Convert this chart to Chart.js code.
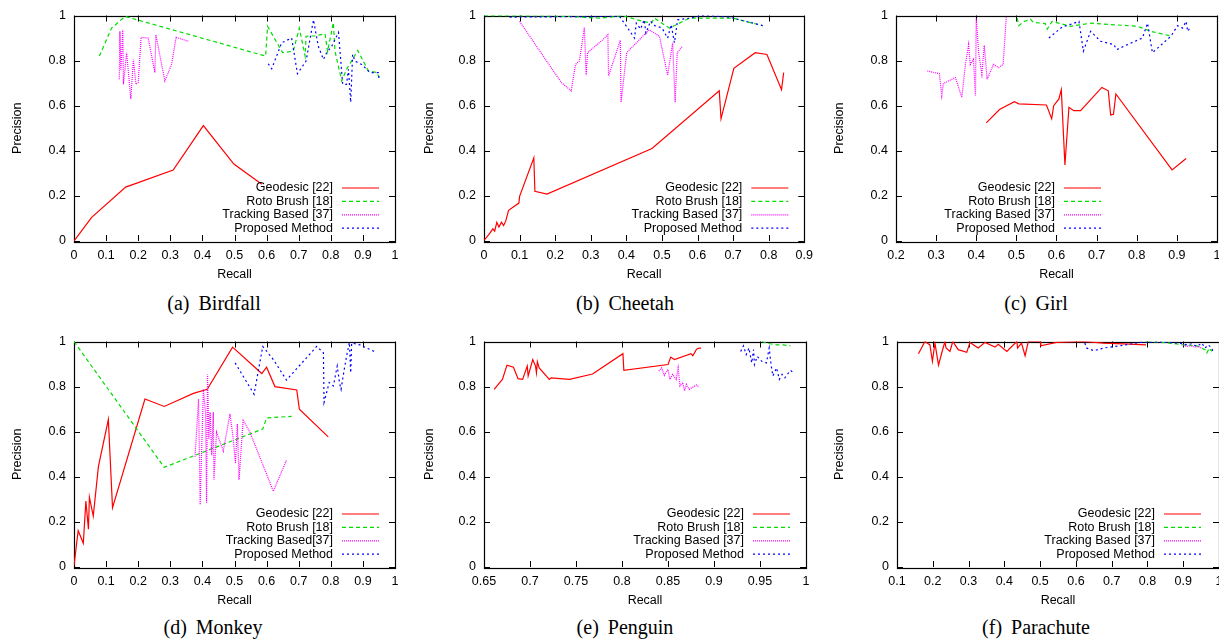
<!DOCTYPE html>
<html lang="en">
<head>
<meta charset="UTF-8">
<title>Precision-Recall curves</title>
<script src="https://cdn.jsdelivr.net/npm/chart.js"></script>
<style>
  html, body { margin: 0; padding: 0; background: #fff; overflow: hidden; }
  body { width: 1219px; height: 643px; position: relative; }
  canvas { position: absolute; }
  .caption {
    position: absolute; transform: translateX(-50%); white-space: nowrap;
    font-family: "Liberation Serif", "Times New Roman", serif; font-size: 20px;
    line-height: 23px; word-spacing: 4px; color: #000;
  }
</style>
</head>
<body>
<canvas id="birdfallCanvas" width="410" height="290" style="left:0;top:0"></canvas>
<canvas id="cheetahCanvas" width="410" height="290" style="left:410px;top:0"></canvas>
<canvas id="girlCanvas" width="410" height="290" style="left:820px;top:0"></canvas>
<canvas id="monkeyCanvas" width="410" height="290" style="left:0;top:326px"></canvas>
<canvas id="penguinCanvas" width="410" height="290" style="left:410px;top:326px"></canvas>
<canvas id="parachuteCanvas" width="410" height="290" style="left:820px;top:326px"></canvas>

<div class="caption" style="left:214px;top:292px">(a) Birdfall</div>
<div class="caption" style="left:625px;top:292px">(b) Cheetah</div>
<div class="caption" style="left:1036px;top:292px">(c) Girl</div>
<div class="caption" style="left:213px;top:616px">(d) Monkey</div>
<div class="caption" style="left:625px;top:616px">(e) Penguin</div>
<div class="caption" style="left:1036px;top:616px">(f) Parachute</div>

<script>
// ---- data (recall, precision) ----
const seriesLabels = ['Geodesic [22]', 'Roto Brush [18]', 'Tracking Based [37]', 'Proposed Method'];
const monkeyLabels = ['Geodesic [22]', 'Roto Brush [18]', 'Tracking Based[37]', 'Proposed Method'];

const precisionTicks = [0, 0.2, 0.4, 0.6, 0.8, 1];
const recallTicksFull = [0, 0.1, 0.2, 0.3, 0.4, 0.5, 0.6, 0.7, 0.8, 0.9, 1];
const recallTicksCheetah = [0, 0.1, 0.2, 0.3, 0.4, 0.5, 0.6, 0.7, 0.8, 0.9];
const recallTicksGirl = [0.2, 0.3, 0.4, 0.5, 0.6, 0.7, 0.8, 0.9, 1];
const recallTicksPenguin = [0.65, 0.7, 0.75, 0.8, 0.85, 0.9, 0.95, 1];
const recallTicksParachute = [0.1, 0.2, 0.3, 0.4, 0.5, 0.6, 0.7, 0.8, 0.9, 1];

const birdfallGeodesic = [[0,0],[0.055,0.105],[0.161,0.239],[0.309,0.315],[0.403,0.512],[0.498,0.341],[0.585,0.252]];
const birdfallRoto = [[0.079,0.82],[0.117,0.944],[0.159,0.996],[0.597,0.82],[0.603,0.952],[0.65,0.835],[0.683,0.842],[0.702,0.944],[0.72,0.82],[0.723,0.908],[0.751,0.91],[0.782,0.919],[0.79,0.84],[0.808,0.969],[0.813,0.842],[0.834,0.71],[0.849,0.761],[0.884,0.845],[0.917,0.754],[0.943,0.747],[0.951,0.725]];
const birdfallTracking = [[0.141,0.717],[0.143,0.93],[0.146,0.76],[0.152,0.937],[0.154,0.695],[0.164,0.835],[0.177,0.63],[0.185,0.805],[0.193,0.695],[0.2,0.703],[0.209,0.903],[0.231,0.9],[0.252,0.747],[0.255,0.915],[0.283,0.71],[0.304,0.783],[0.318,0.903],[0.356,0.886]];
const birdfallProposed = [[0.605,0.786],[0.616,0.764],[0.647,0.879],[0.678,0.9],[0.696,0.742],[0.723,0.798],[0.746,0.981],[0.761,0.864],[0.777,0.805],[0.787,0.835],[0.803,0.864],[0.824,0.925],[0.837,0.695],[0.849,0.695],[0.855,0.761],[0.862,0.615],[0.868,0.827],[0.875,0.798],[0.896,0.783],[0.922,0.747],[0.948,0.747],[0.951,0.71]];

const cheetahGeodesic = [[0,0.003],[0.014,0.029],[0.025,0.054],[0.03,0.044],[0.036,0.083],[0.042,0.062],[0.049,0.083],[0.055,0.069],[0.061,0.088],[0.069,0.136],[0.098,0.168],[0.1,0.198],[0.14,0.369],[0.143,0.22],[0.177,0.208],[0.472,0.41],[0.661,0.666],[0.666,0.542],[0.702,0.766],[0.762,0.835],[0.795,0.827],[0.836,0.671],[0.842,0.747]];
const cheetahRoto = [[0,1],[0.24,0.996],[0.325,0.988],[0.39,0.999],[0.446,0.974],[0.47,0.966],[0.479,0.988],[0.521,0.944],[0.577,0.988],[0.699,0.988],[0.783,0.955]];
const cheetahTracking = [[0.1,0.974],[0.217,0.703],[0.245,0.666],[0.257,0.783],[0.268,0.798],[0.282,0.947],[0.287,0.735],[0.291,0.835],[0.334,0.893],[0.348,0.915],[0.35,0.732],[0.383,0.89],[0.385,0.615],[0.401,0.835],[0.464,0.937],[0.493,0.908],[0.516,0.735],[0.53,0.879],[0.537,0.615],[0.543,0.835],[0.558,0.864]];
const cheetahProposed = [[0.072,0.993],[0.381,0.996],[0.423,0.9],[0.428,0.966],[0.44,0.94],[0.45,0.981],[0.455,0.922],[0.468,0.975],[0.48,0.955],[0.5,0.945],[0.516,0.9],[0.526,0.959],[0.535,0.879],[0.544,0.981],[0.577,0.988],[0.615,1],[0.689,0.993],[0.783,0.955]];

const girlGeodesic = [[0.425,0.524],[0.458,0.583],[0.495,0.618],[0.506,0.608],[0.575,0.603],[0.588,0.542],[0.593,0.6],[0.606,0.63],[0.612,0.671],[0.621,0.337],[0.631,0.593],[0.643,0.578],[0.66,0.578],[0.713,0.681],[0.729,0.666],[0.735,0.559],[0.742,0.562],[0.748,0.652],[0.888,0.315],[0.923,0.366]];
const girlRoto = [[0.502,0.988],[0.506,0.955],[0.52,0.974],[0.535,0.984],[0.542,0.97],[0.572,0.964],[0.577,0.94],[0.589,0.974],[0.635,0.952],[0.685,0.966],[0.802,0.952],[0.835,0.93],[0.887,0.908]];
const girlTracking = [[0.278,0.754],[0.308,0.742],[0.314,0.644],[0.318,0.698],[0.348,0.725],[0.364,0.637],[0.373,0.783],[0.381,0.871],[0.385,0.783],[0.393,0.805],[0.398,0.644],[0.4,0.988],[0.406,0.835],[0.414,0.739],[0.42,0.868],[0.427,0.717],[0.443,0.783],[0.456,0.769],[0.467,0.783],[0.475,0.996]];
const girlProposed = [[0.581,0.9],[0.614,0.949],[0.639,0.963],[0.656,0.974],[0.667,0.842],[0.685,0.93],[0.71,0.886],[0.743,0.871],[0.75,0.849],[0.777,0.871],[0.814,0.9],[0.827,0.966],[0.839,0.835],[0.885,0.908],[0.902,0.955],[0.914,0.944],[0.923,0.974],[0.927,0.93],[0.935,0.952]];

const monkeyGeodesic = [[0,0.007],[0.013,0.161],[0.029,0.105],[0.037,0.292],[0.045,0.168],[0.048,0.31],[0.06,0.226],[0.076,0.445],[0.107,0.654],[0.12,0.263],[0.221,0.745],[0.281,0.712],[0.372,0.77],[0.415,0.788],[0.494,0.975],[0.585,0.858],[0.6,0.886],[0.626,0.8],[0.694,0.785],[0.702,0.7],[0.792,0.577]];
const monkeyRoto = [[0,1],[0.281,0.442],[0.588,0.612],[0.6,0.661],[0.678,0.668]];
const monkeyTracking = [[0.377,0.489],[0.388,0.745],[0.393,0.277],[0.403,0.788],[0.41,0.679],[0.413,0.285],[0.416,0.854],[0.42,0.569],[0.424,0.686],[0.429,0.496],[0.434,0.686],[0.436,0.387],[0.444,0.598],[0.455,0.555],[0.465,0.514],[0.486,0.679],[0.496,0.569],[0.503,0.46],[0.509,0.635],[0.514,0.387],[0.527,0.65],[0.548,0.598],[0.621,0.336],[0.662,0.474]];
const monkeyProposed = [[0.502,0.905],[0.561,0.766],[0.588,0.978],[0.621,0.92],[0.662,0.829],[0.756,0.978],[0.777,0.95],[0.779,0.73],[0.795,0.818],[0.808,0.803],[0.82,0.891],[0.827,0.818],[0.832,0.788],[0.841,0.869],[0.849,0.934],[0.858,0.996],[0.862,0.861],[0.865,0.993],[0.891,0.985],[0.935,0.956]];

const penguinGeodesic = [[0.661,0.788],[0.67,0.832],[0.675,0.895],[0.682,0.886],[0.687,0.835],[0.692,0.832],[0.697,0.891],[0.698,0.847],[0.703,0.92],[0.706,0.891],[0.707,0.861],[0.708,0.91],[0.71,0.883],[0.721,0.832],[0.723,0.839],[0.743,0.832],[0.768,0.856],[0.801,0.946],[0.802,0.872],[0.85,0.898],[0.853,0.931],[0.857,0.92],[0.875,0.946],[0.877,0.937],[0.881,0.966],[0.884,0.971],[0.886,0.971]];
const penguinRoto = [[0.952,1],[0.961,0.99],[0.968,0.985],[0.975,0.985],[0.983,0.981]];
const penguinTracking = [[0.84,0.869],[0.843,0.883],[0.846,0.85],[0.85,0.876],[0.852,0.832],[0.855,0.854],[0.859,0.832],[0.861,0.883],[0.863,0.803],[0.866,0.818],[0.868,0.781],[0.87,0.81],[0.873,0.788],[0.881,0.807],[0.884,0.797]];
const penguinProposed = [[0.929,0.956],[0.932,0.981],[0.935,0.942],[0.938,0.971],[0.941,0.905],[0.943,0.964],[0.944,0.898],[0.947,0.934],[0.952,0.912],[0.957,0.905],[0.96,0.971],[0.962,0.898],[0.964,0.847],[0.968,0.883],[0.971,0.832],[0.974,0.854],[0.977,0.839],[0.983,0.872],[0.986,0.864]];

const parachuteGeodesic = [[0.16,0.946],[0.178,1],[0.192,0.985],[0.199,0.912],[0.206,0.993],[0.216,0.895],[0.225,0.949],[0.234,1],[0.237,0.971],[0.248,0.956],[0.256,1],[0.271,0.964],[0.295,0.952],[0.304,0.996],[0.327,0.971],[0.346,0.996],[0.374,0.975],[0.383,0.988],[0.407,0.956],[0.435,1],[0.437,0.971],[0.448,0.993],[0.458,0.937],[0.467,1],[0.5,1],[0.502,0.981],[0.546,0.996],[0.621,1],[0.677,0.993],[0.751,0.988],[0.796,0.985]];
const parachuteRoto = [[0.798,1],[0.863,0.993],[0.9,0.985],[0.938,0.981],[0.961,0.964],[0.966,0.949],[0.973,0.971],[0.98,0.956]];
const parachuteTracking = [[0.9,0.985],[0.909,0.978],[0.919,0.981],[0.933,0.975],[0.942,0.978],[0.951,0.971]];
const parachuteProposed = [[0.625,0.993],[0.63,0.971],[0.651,0.959],[0.677,0.971],[0.724,0.981],[0.78,0.996],[0.836,0.997],[0.891,0.993],[0.91,0.985],[0.924,0.99],[0.938,0.978],[0.952,0.993],[0.961,0.971],[0.97,0.985],[0.98,0.971],[0.984,0.949]];

// ---- styles (gnuplot-ish line types) ----
const lineColors = ['#ff0000', '#00dd00', '#ff00ff', '#0000ff'];
const lineDashes = [[], [4, 3], [1, 1], [2, 3]];
const sansFont = '"Liberation Sans", Arial, Helvetica, sans-serif';

// frame with inward ticks on all four sides
const gnuFrame = {
  id: 'gnuFrame',
  beforeDatasetsDraw(chart) {
    const { ctx, chartArea: a, scales: { x, y } } = chart;
    ctx.save();
    ctx.strokeStyle = '#000';
    ctx.lineWidth = 1;
    ctx.beginPath();
    x.ticks.forEach(t => {
      const px = Math.round(x.getPixelForValue(t.value)) + 0.5;
      ctx.moveTo(px, a.bottom); ctx.lineTo(px, a.bottom - 6);
      ctx.moveTo(px, a.top); ctx.lineTo(px, a.top + 6);
    });
    y.ticks.forEach(t => {
      const py = Math.round(y.getPixelForValue(t.value)) + 0.5;
      ctx.moveTo(a.left, py); ctx.lineTo(a.left + 6, py);
      ctx.moveTo(a.right, py); ctx.lineTo(a.right - 6, py);
    });
    ctx.stroke();
    ctx.lineWidth = 1.2;
    ctx.strokeRect(Math.round(a.left) + 0.5, Math.round(a.top) + 0.5, Math.round(a.width), Math.round(a.height));
    ctx.restore();
  }
};

// key in the lower right: right-aligned text then a line sample
const gnuKey = {
  id: 'gnuKey',
  afterDatasetsDraw(chart, args, opts) {
    const { ctx, chartArea: a } = chart;
    const textRight = a.right - opts.right;
    ctx.save();
    ctx.font = '12.5px ' + sansFont;
    ctx.textAlign = 'right';
    ctx.textBaseline = 'middle';
    ctx.fillStyle = '#000';
    chart.data.datasets.forEach((ds, i) => {
      const yy = a.bottom - 53 + i * 13.4;
      ctx.fillText(ds.label, textRight, yy);
      ctx.strokeStyle = ds.borderColor;
      ctx.lineWidth = ds.borderWidth;
      ctx.setLineDash(ds.borderDash);
      ctx.beginPath();
      ctx.moveTo(textRight + 9, yy);
      ctx.lineTo(textRight + 46, yy);
      ctx.stroke();
    });
    ctx.restore();
  }
};

function fmt(v) {
  return String(+(+v).toFixed(2));
}

function makeChart(id, labels, series, xMin, xMax, xTicks, geo) {
  const datasets = series.map((pts, i) => ({
    label: labels[i],
    data: pts.map(p => ({ x: p[0], y: p[1] })),
    showLine: true,
    pointRadius: 0,
    borderColor: lineColors[i],
    borderWidth: 1.2,
    borderDash: lineDashes[i],
    tension: 0,
    fill: false,
    order: 3 - i
  }));

  new Chart(document.getElementById(id), {
    type: 'scatter',
    data: { datasets: datasets },
    options: {
      responsive: false,
      animation: false,
      events: [],
      layout: { padding: { top: 12, right: geo.padRight, left: 0, bottom: 0 } },
      plugins: {
        legend: { display: false },
        tooltip: { enabled: false },
        gnuKey: { right: geo.keyRight }
      },
      scales: {
        x: {
          type: 'linear', min: xMin, max: xMax,
          grid: { display: false, drawTicks: false },
          border: { display: false },
          afterBuildTicks: s => { s.ticks = xTicks.map(v => ({ value: v })); },
          afterFit: s => { s.height = 49; },
          ticks: { autoSkip: false, maxRotation: 0, padding: 7, color: '#000',
                   font: { family: sansFont, size: 12.5 }, callback: v => fmt(v) },
          title: { display: true, text: 'Recall', color: '#000',
                   font: { family: sansFont, size: 12.5 }, padding: { top: 0, bottom: 8 } }
        },
        y: {
          type: 'linear', min: 0, max: 1,
          grid: { display: false, drawTicks: false },
          border: { display: false },
          afterBuildTicks: s => { s.ticks = precisionTicks.map(v => ({ value: v })); },
          afterFit: s => { s.width = geo.yWidth; },
          ticks: { autoSkip: false, padding: 8, color: '#000',
                   font: { family: sansFont, size: 12.5 }, callback: v => fmt(v) },
          title: { display: true, text: 'Precision', color: '#000',
                   font: { family: sansFont, size: 12.5 }, padding: { top: geo.titleX - 7.5, bottom: 0 } }
        }
      }
    },
    plugins: [gnuFrame, gnuKey]
  });
}

makeChart('birdfallCanvas', seriesLabels,
  [birdfallGeodesic, birdfallRoto, birdfallTracking, birdfallProposed],
  0, 1, recallTicksFull, { yWidth: 74, padRight: 15, keyRight: 62, titleX: 18 });
makeChart('cheetahCanvas', seriesLabels,
  [cheetahGeodesic, cheetahRoto, cheetahTracking, cheetahProposed],
  0, 0.9, recallTicksCheetah, { yWidth: 74, padRight: 14, keyRight: 62, titleX: 20 });
makeChart('girlCanvas', seriesLabels,
  [girlGeodesic, girlRoto, girlTracking, girlProposed],
  0.2, 1, recallTicksGirl, { yWidth: 76, padRight: 13, keyRight: 162, titleX: 20 });
makeChart('monkeyCanvas', monkeyLabels,
  [monkeyGeodesic, monkeyRoto, monkeyTracking, monkeyProposed],
  0, 1, recallTicksFull, { yWidth: 74, padRight: 15, keyRight: 62, titleX: 18 });
makeChart('penguinCanvas', seriesLabels,
  [penguinGeodesic, penguinRoto, penguinTracking, penguinProposed],
  0.65, 1, recallTicksPenguin, { yWidth: 74, padRight: 14, keyRight: 62, titleX: 20 });
makeChart('parachuteCanvas', seriesLabels,
  [parachuteGeodesic, parachuteRoto, parachuteTracking, parachuteProposed],
  0.1, 1, recallTicksParachute, { yWidth: 77, padRight: 11, keyRight: 64, titleX: 20 });
</script>
</body>
</html>
